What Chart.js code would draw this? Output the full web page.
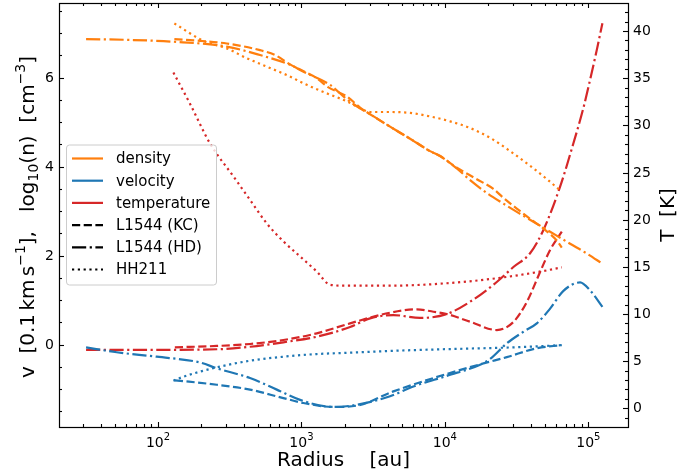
<!DOCTYPE html>
<html>
<head>
<meta charset="utf-8">
<script src="https://cdn.jsdelivr.net/npm/chart.js@4"></script>
<style>
html,body{margin:0;padding:0;background:#fff;}
#c{display:block;}
</style>
</head>
<body>
<canvas id="c" width="697" height="475"></canvas>
<script>
// ---------------- DATA ----------------
// L1544 (KC)
const rKCdens = [130,196,301,514,655,833,1026,1279,1532,2070,2563,3009,4148,5719,7885,9259,12106,16692,21785,25586,31723,39280,48640,60300,65330];
const nKC     = [6.87,6.83,6.77,6.62,6.51,6.30,6.15,5.99,5.79,5.58,5.33,5.18,4.90,4.63,4.35,4.24,3.98,3.72,3.50,3.30,3.06,2.83,2.61,2.34,2.18];
const rKCtemp = [131,257,438,748,1279,2183,4148,6368,8312,10310,14990,23000,30040,37250,46120,54150,65330];
const tKC     = [6.47,6.61,6.82,7.24,7.95,9.01,10.14,10.50,10.24,10.0,9.18,8.30,9.15,11.27,14.46,16.79,18.73];
const rKCvel  = [131,257,438,748,1030,1670,2431,4374,8312,18560,27020,43740,65330];
const vKC     = [-0.80,-0.90,-1.01,-1.20,-1.31,-1.40,-1.37,-1.05,-0.75,-0.42,-0.28,-0.08,-0.01];

// L1544 (HD)
const rHDdens = [31.5,63.8,127,301,514,833,1026,1582,2047,2563,3009,4148,5719,7885,9259,12106,14991,19600,25586,33450,43740,54150,74660,97610,125400];
const nHD     = [6.87,6.85,6.81,6.70,6.51,6.29,6.14,5.84,5.53,5.31,5.18,4.90,4.63,4.35,4.24,3.96,3.70,3.41,3.17,2.94,2.72,2.54,2.27,2.05,1.82];
const rHDtemp = [31.5,88,257,438,748,1279,2183,3009,4374,6714,10310,14990,23000,30040,39280,48640,63580,78730,92440,102900,114600,125400];
const tHD     = [6.2,6.2,6.26,6.53,7.0,7.59,8.62,9.54,9.89,9.58,10.0,11.3,13.39,14.98,16.44,18.91,23.5,28.1,31.85,34.83,38.0,40.83];
const rHDvel  = [31.5,51.5,98,196,257,438,673,978,1670,2431,4148,6030,10310,17600,20670,27020,35270,43740,54150,67060,87670,102900,125400];
const vHD     = [-0.06,-0.17,-0.27,-0.40,-0.53,-0.75,-1.01,-1.24,-1.40,-1.35,-1.16,-0.94,-0.70,-0.45,-0.32,0.03,0.29,0.48,0.81,1.21,1.40,1.22,0.85];

// HH211
const rHHdens = [130,207,301,415,573,790,1090,1500,2070,2700,3009,4148,5719,7885,10870,14990,20670,28500,39280,51500,64000];
const nHH     = [7.22,6.83,6.66,6.44,6.25,6.06,5.84,5.65,5.47,5.28,5.23,5.23,5.21,5.13,5.02,4.87,4.65,4.35,4.02,3.72,3.46];
const rHHtemp = [128,167,230,335,438,573,748,978,1279,1585,2014,4148,10310,23000,46120,65330];
const tHH     = [35.6,32.3,28.1,24.6,22.1,19.6,17.7,16.1,14.5,13.1,13.0,13.0,13.26,13.79,14.49,14.95];
const rHHvel  = [128,150,257,438,748,1279,2183,4148,10310,30040,65330];
const vHH     = [-0.81,-0.72,-0.51,-0.36,-0.27,-0.21,-0.18,-0.14,-0.10,-0.06,-0.01];

// ticks / labels
const xMajorTicks = [1e2,1e3,1e4,1e5];
const xMajorExp   = ['2','3','4','5'];
const yLeftMajor  = [0,2,4,6];
const yLeftLabels = ['0','2','4','6'];
const yRightMajor = [0,5,10,15,20,25,30,35,40];
const yRightLabels= ['0','5','10','15','20','25','30','35','40'];
const legendLabels = ['density','velocity','temperature','L1544 (KC)','L1544 (HD)','HH211'];

// ---------------- STYLE ----------------
const C_DENS = '#ff7f0e', C_VEL = '#1f77b4', C_TEMP = '#d62728';
const LW = 2.2;
const DASH = [8.2,3.5], DASHDOT = [14.2,3.5,2.2,3.5], DOT = [2.2,3.6];
const FONT = '"DejaVu Sans", "Liberation Sans", sans-serif';

function pts(rs, vs){ return rs.map((r,i)=>({x:r, y:vs[i]})); }
function ds(label, rs, vs, color, dash, axis){
  return {label, data: pts(rs, vs), borderColor: color, backgroundColor: color,
    borderWidth: LW, borderDash: dash, pointRadius: 0, showLine: true, fill: false,
    cubicInterpolationMode: 'monotone', yAxisID: axis, borderCapStyle: 'butt'};
}

const datasets = [
  ds('dens KC', rKCdens, nKC, C_DENS, DASH, 'y'),
  ds('dens HD', rHDdens, nHD, C_DENS, DASHDOT, 'y'),
  ds('dens HH', rHHdens, nHH, C_DENS, DOT, 'y'),
  ds('vel KC', rKCvel, vKC, C_VEL, DASH, 'y'),
  ds('vel HD', rHDvel, vHD, C_VEL, DASHDOT, 'y'),
  ds('vel HH', rHHvel, vHH, C_VEL, DOT, 'y'),
  ds('T KC', rKCtemp, tKC, C_TEMP, DASH, 'yT'),
  ds('T HD', rHDtemp, tHD, C_TEMP, DASHDOT, 'yT'),
  ds('T HH', rHHtemp, tHH, C_TEMP, DOT, 'yT'),
];

function drawRich(ctx, segs, size){
  let W = 0;
  const items = segs.map(s=>{
    if (s.gap!==undefined){ W += s.gap; return {gap:s.gap}; }
    const fs = (s.sup||s.sub) ? size*0.7 : size;
    ctx.font = fs + 'px ' + FONT;
    const w = ctx.measureText(s.t).width;
    W += w;
    return {t:s.t, fs, w, dy: s.sup ? -0.45*size : (s.sub ? 0.2*size : 0)};
  });
  let x = -W/2;
  items.forEach(it=>{
    if (it.gap!==undefined){ x += it.gap; return; }
    ctx.font = it.fs + 'px ' + FONT;
    ctx.fillText(it.t, x, it.dy);
    x += it.w;
  });
}

const decor = {
  id: 'decor',
  beforeDraw(chart){
    const ctx = chart.ctx;
    ctx.save(); ctx.fillStyle = '#fff'; ctx.fillRect(0,0,chart.width,chart.height); ctx.restore();
  },
  afterDraw(chart){
    const ctx = chart.ctx, a = chart.chartArea;
    const xs = chart.scales.x, yl = chart.scales.y, yr = chart.scales.yT;
    ctx.save();
    ctx.strokeStyle = '#000'; ctx.fillStyle = '#000'; ctx.lineWidth = 1.1;
    const MAJ = 5, MIN = 3;
    const xTick = (v, len)=>{
      const p = Math.round(xs.getPixelForValue(v))+0.5;
      if (p < a.left || p > a.right) return;
      ctx.beginPath();
      ctx.moveTo(p, a.bottom); ctx.lineTo(p, a.bottom-len);
      ctx.moveTo(p, a.top); ctx.lineTo(p, a.top+len);
      ctx.stroke();
    };
    for (let e=1; e<=5; e++){
      for (let k=2; k<=9; k++){ const v = k*Math.pow(10,e); if (v>=xs.min && v<=xs.max) xTick(v, MIN); }
    }
    xMajorTicks.forEach(v=>xTick(v, MAJ));
    const ylTick = (v,len)=>{
      const p = Math.round(yl.getPixelForValue(v))+0.5;
      if (p < a.top || p > a.bottom) return;
      ctx.beginPath(); ctx.moveTo(a.left, p); ctx.lineTo(a.left+len, p); ctx.stroke();
    };
    for (let v=-1.5; v<=7.5; v+=0.5){ if (Math.abs(v%2)>1e-9) ylTick(v, MIN); }
    yLeftMajor.forEach(v=>ylTick(v, MAJ));
    const yrTick = (v,len)=>{
      const p = Math.round(yr.getPixelForValue(v))+0.5;
      if (p < a.top || p > a.bottom) return;
      ctx.beginPath(); ctx.moveTo(a.right, p); ctx.lineTo(a.right-len, p); ctx.stroke();
    };
    for (let v=-1; v<=42; v++){ if (v%5!==0) yrTick(v, MIN); }
    yRightMajor.forEach(v=>yrTick(v, MAJ));
    ctx.lineWidth = 1.2;
    ctx.strokeRect(a.left+0.5, a.top+0.5, a.right-a.left, a.bottom-a.top);

    // tick labels
    ctx.textBaseline = 'alphabetic';
    xMajorTicks.forEach((v,i)=>{
      const p = xs.getPixelForValue(v);
      ctx.font = '14px ' + FONT; const w1 = ctx.measureText('10').width;
      ctx.font = '10px ' + FONT; const w2 = ctx.measureText(xMajorExp[i]).width;
      const sx = p - (w1+w2)/2;
      ctx.textAlign = 'left';
      ctx.font = '14px ' + FONT; ctx.fillText('10', sx, 447);
      ctx.font = '10px ' + FONT; ctx.fillText(xMajorExp[i], sx+w1, 440);
    });
    ctx.font = '14px ' + FONT; ctx.textBaseline = 'middle';
    ctx.textAlign = 'right';
    yLeftMajor.forEach((v,i)=>{ ctx.fillText(yLeftLabels[i], a.left-5, yl.getPixelForValue(v)+0.5); });
    ctx.textAlign = 'left';
    yRightMajor.forEach((v,i)=>{ ctx.fillText(yRightLabels[i], a.right+5, yr.getPixelForValue(v)+0.5); });

    // axis titles
    ctx.textBaseline = 'alphabetic';
    ctx.textAlign = 'center';
    ctx.font = '20px ' + FONT;
    ctx.fillText('Radius    [au]', (a.left+a.right)/2, 466);
    ctx.save();
    ctx.translate(674, (a.top+a.bottom)/2);
    ctx.rotate(-Math.PI/2);
    ctx.textAlign = 'center';
    ctx.fillText('T  [K]', 0, 0);
    ctx.restore();
    ctx.save();
    ctx.translate(33.5, (a.top+a.bottom)/2 + 2);
    ctx.rotate(-Math.PI/2);
    ctx.textAlign = 'left';
    drawRich(ctx, [
      {t:'v  [0.1'},{gap:3.3},{t:'km'},{gap:3.3},{t:'s'},{t:'\u22121',sup:true},
      {t:'],   log'},{t:'10',sub:true},{t:'(n)  [cm'},{t:'\u22123',sup:true},{t:']'}
    ], 20);
    ctx.restore();

    // legend
    const L = 66.5, T = 145, R = 216.5, B = 285, rad = 3;
    ctx.beginPath();
    ctx.moveTo(L+rad, T); ctx.lineTo(R-rad, T); ctx.arcTo(R, T, R, T+rad, rad);
    ctx.lineTo(R, B-rad); ctx.arcTo(R, B, R-rad, B, rad);
    ctx.lineTo(L+rad, B); ctx.arcTo(L, B, L, B-rad, rad);
    ctx.lineTo(L, T+rad); ctx.arcTo(L, T, L+rad, T, rad);
    ctx.closePath();
    ctx.fillStyle = 'rgba(255,255,255,0.8)'; ctx.fill();
    ctx.strokeStyle = '#cccccc'; ctx.lineWidth = 1; ctx.stroke();
    const legColors = [C_DENS, C_VEL, C_TEMP, '#000', '#000', '#000'];
    const legDash = [[],[],[],DASH,DASHDOT,DOT];
    ctx.font = '15px ' + FONT; ctx.textAlign = 'left'; ctx.textBaseline = 'middle';
    legendLabels.forEach((lab,i)=>{
      const y = 158.5 + i*22.2;
      ctx.save();
      ctx.strokeStyle = legColors[i]; ctx.lineWidth = LW; ctx.setLineDash(legDash[i]); ctx.lineCap = 'butt';
      ctx.beginPath(); ctx.moveTo(72, y); ctx.lineTo(103, y); ctx.stroke();
      ctx.restore();
      ctx.fillStyle = '#000';
      ctx.fillText(lab, 116, y+1);
    });
    ctx.restore();
  }
};

new Chart(document.getElementById('c'), {
  type: 'scatter',
  data: { datasets },
  options: {
    responsive: false, animation: false, devicePixelRatio: 1,
    layout: { padding: { left: 59, right: 69, top: 3, bottom: 48 } },
    scales: {
      x: { type: 'logarithmic', min: 20.4, max: 189100, display: false },
      y: { type: 'linear', min: -1.85, max: 7.68, display: false },
      yT: { type: 'linear', position: 'right', min: -1.98, max: 42.97, display: false }
    },
    plugins: { legend: { display: false }, tooltip: { enabled: false } },
    elements: { line: { tension: 0 } }
  },
  plugins: [decor]
});
</script>
</body>
</html>
